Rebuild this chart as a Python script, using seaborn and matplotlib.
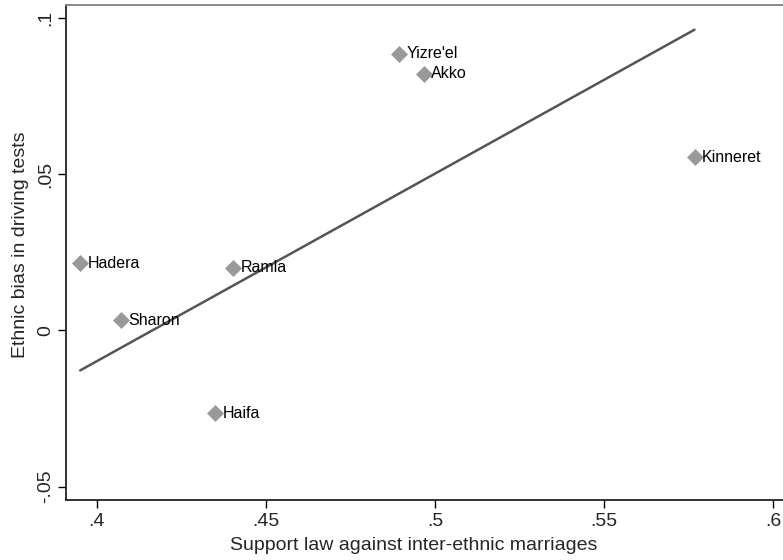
import matplotlib
matplotlib.use("Agg")
import matplotlib.pyplot as plt
import seaborn as sns
import pandas as pd

# districts and their values
districts = ["Hadera", "Sharon", "Ramla", "Haifa", "Yizre'el", "Akko", "Kinneret"]
support = [0.3951, 0.4072, 0.4402, 0.4350, 0.4892, 0.4966, 0.5767]
bias = [0.0215, 0.0032, 0.0201, -0.0265, 0.0886, 0.0822, 0.0555]

# fitted line (end points)
fit_x = [0.3951, 0.5767]
fit_y = [-0.0128, 0.0963]

x_ticks = [0.4, 0.45, 0.5, 0.55, 0.6]
x_tick_labels = [".4", ".45", ".5", ".55", ".6"]
y_ticks = [-0.05, 0, 0.05, 0.1]
y_tick_labels = ["-.05", "0", ".05", ".1"]

df = pd.DataFrame({"district": districts, "support": support, "bias": bias})
fit = pd.DataFrame({"support": fit_x, "bias": fit_y})

sns.set_theme(style="white")
plt.rcParams["font.family"] = ["Liberation Sans", "DejaVu Sans"]

fig = plt.figure(figsize=(7.83, 5.6), dpi=100)
# plot region runs past the right edge of the picture, as in the original crop
ax = fig.add_axes([0.0847, 0.1071, 0.941, 0.8845])

# fit line
sns.lineplot(data=fit, x="support", y="bias", color="#555555", linewidth=1.8, ax=ax)

# points
sns.scatterplot(data=df, x="support", y="bias", marker="D", s=75, color="#999999",
                edgecolor="#999999", linewidth=0, ax=ax, zorder=3)

# point labels
for _, row in df.iterrows():
    ax.annotate(row["district"], (row["support"], row["bias"]), xytext=(5.5, 0),
                textcoords="offset points", va="center", ha="left", fontsize=11.5, color="black")

ax.set_xlim(0.391, 0.6088)
ax.set_ylim(-0.0543, 0.1043)

ax.set_xticks(x_ticks)
ax.set_xticklabels(x_tick_labels, fontsize=14)
ax.set_yticks(y_ticks)
ax.set_yticklabels(y_tick_labels, fontsize=14, rotation=90, va="center")

ax.tick_params(axis="both", direction="out", length=6, width=1, color="black",
               bottom=True, left=True, pad=3)

ax.set_xlabel("Support law against inter-ethnic marriages", fontsize=14, labelpad=3)
ax.set_ylabel("Ethnic bias in driving tests", fontsize=14, labelpad=0)
# titles are centred on the visible part of the graph
ax.xaxis.set_label_coords(0.472, -0.075)
ax.yaxis.set_label_coords(-0.051, 0.515)

for side in ["left", "bottom"]:
    ax.spines[side].set_color("#222222")
    ax.spines[side].set_linewidth(1.3)
for side in ["top", "right"]:
    ax.spines[side].set_color("#7f7f7f")
    ax.spines[side].set_linewidth(1.3)

ax.grid(False)

fig.savefig("out.png", dpi=100)
